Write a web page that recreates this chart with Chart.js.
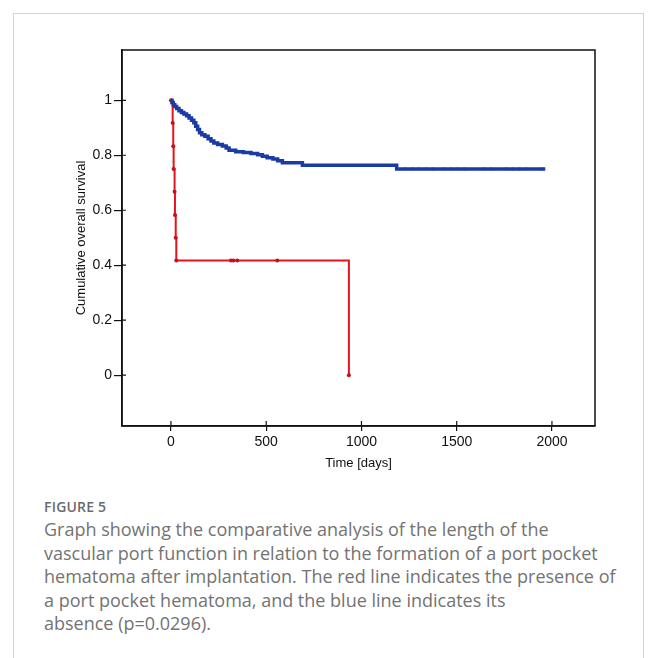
<!DOCTYPE html>
<html>
<head>
<meta charset="utf-8">
<script src="https://cdn.jsdelivr.net/npm/chart.js@4.4.1/dist/chart.umd.min.js"></script>
<style>
  html, body { margin: 0; padding: 0; background: #fff; }
  body { width: 656px; height: 658px; position: relative; overflow: hidden; }
  #frame {
    position: absolute; left: 13px; top: 13px; width: 629px; height: 700px;
    border: 1px solid #d4d4d4; border-bottom: none;
  }
  #wrap { position: absolute; left: 0; top: 0; width: 656px; height: 480px; }
  #caption {
    position: absolute; left: 44px; top: 497px; width: 605px;
    font-family: "Open Sans", sans-serif; color: #737373;
  }
  #caption .fig { font-size: 14px; font-weight: 600; line-height: 20px; letter-spacing: 0.2px; color: #6b6b6b; }
  #caption .txt { font-size: 18px; line-height: 23.5px; margin-top: 1px; }
</style>
</head>
<body>
<div id="frame"></div>
<div id="wrap"><canvas id="km"></canvas></div>
<div id="caption">
  <div class="fig">FIGURE 5</div>
  <div class="txt">Graph showing the comparative analysis of the length of the<br>vascular port function in relation to the formation of a port pocket<br>hematoma after implantation. The red line indicates the presence of<br>a port pocket hematoma, and the blue line indicates its<br>absence (p=0.0296).</div>
</div>
<script>
// Kaplan-Meier, bez krwiaka (niebieska)
const blueTime = [0, 5, 12, 20, 30, 42, 55, 68, 82, 95, 108, 120, 130, 140, 150, 162, 178, 195, 210, 225, 245, 270, 290, 305, 340, 380, 420, 455, 480, 505, 535, 560, 585, 690, 1185, 1965];
const blueSurv = [1, 0.992, 0.984, 0.977, 0.970, 0.962, 0.956, 0.950, 0.944, 0.936, 0.927, 0.918, 0.906, 0.894, 0.882, 0.875, 0.869, 0.860, 0.852, 0.845, 0.839, 0.834, 0.826, 0.818, 0.813, 0.810, 0.806, 0.802, 0.796, 0.791, 0.786, 0.780, 0.773, 0.764, 0.750, 0.750];
// obserwacje ucięte (niebieska)
const blueCensTime = [1230, 1270, 1300, 1340, 1375, 1430, 1470, 1505, 1540, 1640, 1680, 1760, 1795, 1830, 1865, 1950];
const blueCensSurv = [0.75, 0.75, 0.75, 0.75, 0.75, 0.75, 0.75, 0.75, 0.75, 0.75, 0.75, 0.75, 0.75, 0.75, 0.75, 0.75];

// Kaplan-Meier, krwiak (czerwona)
const redTime = [0, 9, 12, 14, 19, 21, 25, 28, 315, 327, 348, 558, 934];
const redSurv = [1, 0.917, 0.833, 0.75, 0.667, 0.583, 0.5, 0.417, 0.417, 0.417, 0.417, 0.417, 0];

const xTicks = [0, 500, 1000, 1500, 2000];
const xTickLabels = ['0', '500', '1000', '1500', '2000'];
const yTicks = [0, 0.2, 0.4, 0.6, 0.8, 1];
const yTickLabels = ['0', '0.2', '0.4', '0.6', '0.8', '1'];

const toXY = (xs, ys) => xs.map((x, i) => ({ x: x, y: ys[i] }));

// ramka wokół wykresu + krótkie znaczniki do środka
const boxPlugin = {
    id: 'box',
    afterDraw(chart) {
        const { ctx, chartArea: a, scales } = chart;
        ctx.save();
        ctx.strokeStyle = '#111';
        ctx.lineWidth = 1.5;
        ctx.strokeRect(a.left, a.top, a.right - a.left, a.bottom - a.top);
        ctx.lineWidth = 1.2;
        ctx.beginPath();
        xTicks.forEach(v => {
            const px = scales.x.getPixelForValue(v);
            ctx.moveTo(px, a.bottom);
            ctx.lineTo(px, a.bottom - 5);
        });
        yTicks.forEach(v => {
            const py = scales.y.getPixelForValue(v);
            ctx.moveTo(a.left, py);
            ctx.lineTo(a.left + 4, py);
        });
        ctx.stroke();
        ctx.restore();
    }
};

const axisFont = { family: '"Liberation Sans", Arial, sans-serif', size: 14 };
const titleFont = { family: '"Liberation Sans", Arial, sans-serif', size: 13 };

new Chart(document.getElementById('km'), {
    type: 'scatter',
    data: {
        datasets: [{
            label: 'Brak krwiaka',
            data: toXY(blueTime, blueSurv),
            showLine: true,
            stepped: true,
            borderColor: '#1a3aa6',
            backgroundColor: '#1a3aa6',
            borderWidth: 3.5,
            pointRadius: 0
        }, {
            label: 'Brak krwiaka - ucięte',
            data: toXY(blueCensTime, blueCensSurv),
            showLine: false,
            borderColor: '#1a3aa6',
            backgroundColor: '#1a3aa6',
            pointRadius: 1.4,
            pointBorderWidth: 0
        }, {
            label: 'Krwiak',
            data: toXY(redTime, redSurv),
            showLine: true,
            stepped: true,
            borderColor: '#e3141c',
            backgroundColor: '#c8101a',
            borderWidth: 2,
            pointRadius: 2,
            pointBorderWidth: 0
        }]
    },
    options: {
        responsive: true,
        maintainAspectRatio: false,
        animation: false,
        layout: { padding: { left: 70, top: 50, right: 61, bottom: 5 } },
        plugins: {
            legend: { display: false },
            tooltip: { enabled: false }
        },
        scales: {
            x: {
                type: 'linear',
                min: -257,
                max: 2226,
                afterFit: s => { s.height = 49; },
                afterBuildTicks: s => { s.ticks = xTicks.map(v => ({ value: v })); },
                ticks: {
                    color: '#111',
                    font: axisFont,
                    padding: 3,
                    maxRotation: 0,
                    callback: (v, i) => xTickLabels[i]
                },
                grid: { drawOnChartArea: false, drawTicks: true, tickLength: 5, color: '#111', lineWidth: 1.2 },
                border: { display: true, color: '#111', width: 1.5 },
                title: { display: true, text: 'Time [days]', color: '#111', font: titleFont, padding: { top: 4, bottom: 4 } }
            },
            y: {
                type: 'linear',
                min: -0.185,
                max: 1.183,
                afterFit: s => { s.width = 52; },
                afterBuildTicks: s => { s.ticks = yTicks.map(v => ({ value: v })); },
                ticks: {
                    color: '#111',
                    font: axisFont,
                    padding: 2,
                    callback: (v, i) => yTickLabels[i]
                },
                grid: { drawOnChartArea: false, drawTicks: true, tickLength: 8, color: '#111', lineWidth: 1.2 },
                border: { display: true, color: '#111', width: 1.5 },
                title: { display: true, text: 'Cumulative overall survival', color: '#111', font: titleFont, padding: { top: 4, bottom: 4 } }
            }
        }
    },
    plugins: [boxPlugin]
});
</script>
</body>
</html>
